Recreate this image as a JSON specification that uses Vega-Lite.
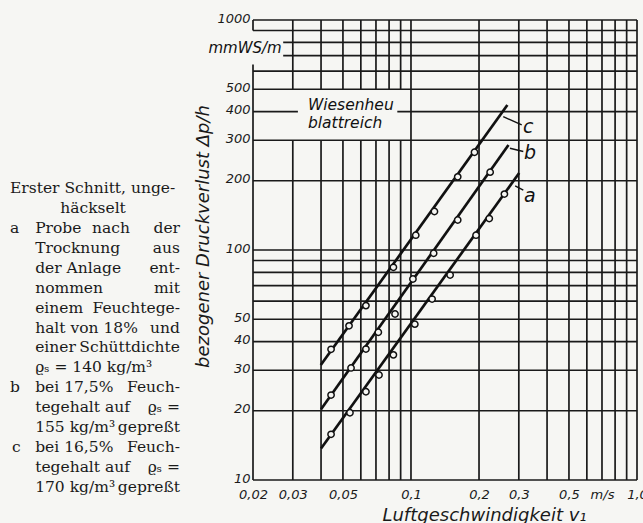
{
  "$schema": "https://vega.github.io/schema/vega-lite/v6.json",
  "background": "#f6f6f3",
  "padding": {"left": 0, "top": 12, "right": 0, "bottom": 0},
  "bounds": "flush",
  "spacing": 68,
  "config": {"view": {"stroke": null}},
  "datasets": {
    "para": [
      {"row": 0, "x": 0.054, "just": "l", "t": "Erster Schnitt, unge-"},
      {"row": 1, "x": 0.503, "just": "c", "t": "häckselt"},
      {"row": 2, "x": 0.054, "just": "l", "t": "a"},
      {"row": 2, "x": 0.19, "just": "l", "t": "Probe"},
      {"row": 2, "x": 0.6, "just": "c", "t": "nach"},
      {"row": 2, "x": 0.973, "just": "r", "t": "der"},
      {"row": 3, "x": 0.19, "just": "l", "t": "Trocknung"},
      {"row": 3, "x": 0.973, "just": "r", "t": "aus"},
      {"row": 4, "x": 0.19, "just": "l", "t": "der Anlage"},
      {"row": 4, "x": 0.973, "just": "r", "t": "ent-"},
      {"row": 5, "x": 0.19, "just": "l", "t": "nommen"},
      {"row": 5, "x": 0.973, "just": "r", "t": "mit"},
      {"row": 6, "x": 0.19, "just": "l", "t": "einem"},
      {"row": 6, "x": 0.973, "just": "r", "t": "Feuchtege-"},
      {"row": 7, "x": 0.19, "just": "l", "t": "halt von 18%"},
      {"row": 7, "x": 0.973, "just": "r", "t": "und"},
      {"row": 8, "x": 0.19, "just": "l", "t": "einer"},
      {"row": 8, "x": 0.973, "just": "r", "t": "Schüttdichte"},
      {"row": 9, "x": 0.19, "just": "l", "t": "ϱₛ = 140 kg/m³"},
      {"row": 10, "x": 0.054, "just": "l", "t": "b"},
      {"row": 10, "x": 0.19, "just": "l", "t": "bei 17,5%"},
      {"row": 10, "x": 0.973, "just": "r", "t": "Feuch-"},
      {"row": 11, "x": 0.19, "just": "l", "t": "tegehalt auf"},
      {"row": 11, "x": 0.973, "just": "r", "t": "ϱₛ ="},
      {"row": 12, "x": 0.19, "just": "l", "t": "155 kg/m³"},
      {"row": 12, "x": 0.973, "just": "r", "t": "gepreßt"},
      {"row": 13, "x": 0.065, "just": "l", "t": "c"},
      {"row": 13, "x": 0.19, "just": "l", "t": "bei 16,5%"},
      {"row": 13, "x": 0.973, "just": "r", "t": "Feuch-"},
      {"row": 14, "x": 0.19, "just": "l", "t": "tegehalt auf"},
      {"row": 14, "x": 0.973, "just": "r", "t": "ϱₛ ="},
      {"row": 15, "x": 0.19, "just": "l", "t": "170 kg/m³"},
      {"row": 15, "x": 0.973, "just": "r", "t": "gepreßt"}
    ],
    "vgrid": [
      {"x": 0.02, "y": 10, "y2": 640}, {"x": 0.02, "y": 900, "y2": 1000},
      {"x": 0.03, "y": 10, "y2": 300}, {"x": 0.03, "y": 500, "y2": 1000},
      {"x": 0.04, "y": 10, "y2": 300}, {"x": 0.04, "y": 500, "y2": 1000},
      {"x": 0.05, "y": 10, "y2": 300}, {"x": 0.05, "y": 500, "y2": 1000},
      {"x": 0.06, "y": 10, "y2": 300}, {"x": 0.06, "y": 500, "y2": 1000},
      {"x": 0.07, "y": 10, "y2": 300}, {"x": 0.07, "y": 500, "y2": 1000},
      {"x": 0.08, "y": 10, "y2": 300}, {"x": 0.08, "y": 500, "y2": 1000},
      {"x": 0.09, "y": 10, "y2": 300}, {"x": 0.09, "y": 500, "y2": 1000},
      {"x": 0.1, "y": 10, "y2": 1000}, {"x": 0.2, "y": 10, "y2": 1000},
      {"x": 0.3, "y": 10, "y2": 1000}, {"x": 0.4, "y": 10, "y2": 1000},
      {"x": 0.5, "y": 10, "y2": 1000}, {"x": 0.6, "y": 10, "y2": 1000},
      {"x": 0.7, "y": 10, "y2": 1000}, {"x": 0.8, "y": 10, "y2": 1000},
      {"x": 0.9, "y": 10, "y2": 1000}, {"x": 1.0, "y": 10, "y2": 1000}
    ],
    "hgrid": [
      {"y": 10, "x": 0.02, "x2": 1}, {"y": 20, "x": 0.02, "x2": 1},
      {"y": 30, "x": 0.02, "x2": 1}, {"y": 40, "x": 0.02, "x2": 1},
      {"y": 50, "x": 0.02, "x2": 1}, {"y": 60, "x": 0.02, "x2": 1},
      {"y": 70, "x": 0.02, "x2": 1}, {"y": 80, "x": 0.02, "x2": 1},
      {"y": 90, "x": 0.02, "x2": 1}, {"y": 100, "x": 0.02, "x2": 1},
      {"y": 200, "x": 0.02, "x2": 1}, {"y": 300, "x": 0.02, "x2": 1},
      {"y": 400, "x": 0.02, "x2": 0.0316}, {"y": 400, "x": 0.087, "x2": 1},
      {"y": 500, "x": 0.02, "x2": 1}, {"y": 600, "x": 0.02, "x2": 1},
      {"y": 700, "x": 0.0272, "x2": 1}, {"y": 800, "x": 0.0272, "x2": 1},
      {"y": 900, "x": 0.02, "x2": 1}, {"y": 1000, "x": 0.02, "x2": 1}
    ],
    "fits": [
      {"s": "c", "x": 0.0399, "y": 31.6}, {"s": "c", "x": 0.267, "y": 427},
      {"s": "b", "x": 0.04, "y": 20.3}, {"s": "b", "x": 0.27, "y": 286},
      {"s": "a", "x": 0.04, "y": 13.7}, {"s": "a", "x": 0.301, "y": 216}
    ],
    "pts": [
      {"s": "c", "x": 0.0443, "y": 37.0}, {"s": "c", "x": 0.0532, "y": 46.8},
      {"s": "c", "x": 0.0632, "y": 57.3}, {"s": "c", "x": 0.0836, "y": 84.1},
      {"s": "c", "x": 0.105, "y": 116}, {"s": "c", "x": 0.127, "y": 147},
      {"s": "c", "x": 0.161, "y": 208}, {"s": "c", "x": 0.191, "y": 266},
      {"s": "b", "x": 0.0443, "y": 23.4}, {"s": "b", "x": 0.0543, "y": 30.7},
      {"s": "b", "x": 0.0632, "y": 37.1}, {"s": "b", "x": 0.0717, "y": 43.9},
      {"s": "b", "x": 0.085, "y": 52.7}, {"s": "b", "x": 0.102, "y": 74.8},
      {"s": "b", "x": 0.126, "y": 96.8}, {"s": "b", "x": 0.161, "y": 135},
      {"s": "b", "x": 0.224, "y": 218},
      {"s": "a", "x": 0.0443, "y": 15.8}, {"s": "a", "x": 0.0537, "y": 19.6},
      {"s": "a", "x": 0.0632, "y": 24.2}, {"s": "a", "x": 0.0722, "y": 28.6},
      {"s": "a", "x": 0.0836, "y": 35.0}, {"s": "a", "x": 0.104, "y": 47.6},
      {"s": "a", "x": 0.124, "y": 61.2}, {"s": "a", "x": 0.149, "y": 77.8},
      {"s": "a", "x": 0.194, "y": 116}, {"s": "a", "x": 0.222, "y": 137},
      {"s": "a", "x": 0.259, "y": 175}
    ],
    "leaders": [
      {"s": "c", "x": 0.256, "y": 380, "x2": 0.309, "y2": 350},
      {"s": "b", "x": 0.274, "y": 277, "x2": 0.314, "y2": 268},
      {"s": "a", "x": 0.289, "y": 190, "x2": 0.314, "y2": 182}
    ],
    "curvelabels": [
      {"t": "c", "x": 0.33, "y": 343},
      {"t": "b", "x": 0.336, "y": 263},
      {"t": "a", "x": 0.336, "y": 172}
    ],
    "notes": [
      {"t": "Wiesenheu", "x": 0.035, "y": 427},
      {"t": "blattreich", "x": 0.035, "y": 357}
    ],
    "unit": [
      {"t": "mmWS/m", "x": 0.0268, "y": 756}
    ]
  },
  "hconcat": [
    {
      "width": 185,
      "height": 460,
      "data": {"name": "para"},
      "encoding": {
        "x": {"field": "x", "type": "quantitative", "scale": {"domain": [0, 1]}, "axis": null},
        "y": {"field": "row", "type": "quantitative", "scale": {"domain": [-8.46, 14.66], "reverse": true}, "axis": null},
        "text": {"field": "t"}
      },
      "layer": [
        {"transform": [{"filter": "datum.just == 'l'"}], "mark": {"type": "text", "align": "left", "baseline": "middle", "font": "DejaVu Serif", "fontSize": 15.5, "color": "#1a1a1a"}},
        {"transform": [{"filter": "datum.just == 'r'"}], "mark": {"type": "text", "align": "right", "baseline": "middle", "font": "DejaVu Serif", "fontSize": 15.5, "color": "#1a1a1a"}},
        {"transform": [{"filter": "datum.just == 'c'"}], "mark": {"type": "text", "align": "center", "baseline": "middle", "font": "DejaVu Serif", "fontSize": 15.5, "color": "#1a1a1a"}}
      ]
    },
    {
      "width": 384,
      "height": 460,
      "encoding": {
        "x": {
          "field": "x", "type": "quantitative",
          "scale": {"type": "log", "domain": [0.02, 1], "nice": false},
          "axis": {
            "title": "Luftgeschwindigkeit v₁",
            "values": [0.02, 0.03, 0.05, 0.1, 0.2, 0.3, 0.5, 0.7, 1],
            "labelExpr": "datum.value == 0.7 ? 'm/s' : datum.value == 1 ? '1,0' : replace(format(datum.value, '.2~f'), '.', ',')",
            "grid": false, "ticks": false, "domain": false,
            "labelFont": "DejaVu Sans", "labelFontStyle": "italic", "labelFontSize": 13, "labelColor": "#1a1a1a",
            "labelPadding": 8, "labelFlush": false, "labelOverlap": false,
            "titleFont": "DejaVu Sans", "titleFontStyle": "italic", "titleFontWeight": "normal", "titleFontSize": 18, "titleColor": "#1a1a1a",
            "titleX": 231, "titleY": 35, "titleBaseline": "middle"
          }
        },
        "y": {
          "field": "y", "type": "quantitative",
          "scale": {"type": "log", "domain": [10, 1000], "nice": false},
          "axis": {
            "title": "bezogener Druckverlust Δp/h",
            "values": [10, 20, 30, 40, 50, 100, 200, 300, 400, 500, 1000],
            "labelExpr": "format(datum.value, 'd')",
            "grid": false, "ticks": false, "domain": false,
            "labelFont": "DejaVu Sans", "labelFontStyle": "italic", "labelFontSize": 13, "labelColor": "#1a1a1a",
            "labelPadding": 3, "labelFlush": false, "labelOverlap": false, "labelOffset": -2,
            "titleFont": "DejaVu Sans", "titleFontStyle": "italic", "titleFontWeight": "normal", "titleFontSize": 18, "titleColor": "#1a1a1a",
            "titleX": -50, "titleY": 216, "titleBaseline": "middle"
          }
        }
      },
      "layer": [
        {"data": {"name": "vgrid"}, "mark": {"type": "rule", "color": "#1a1a1a", "strokeWidth": 1.7}, "encoding": {"y2": {"field": "y2"}}},
        {"data": {"name": "hgrid"}, "mark": {"type": "rule", "color": "#1a1a1a", "strokeWidth": 1.7}, "encoding": {"x2": {"field": "x2"}}},
        {"data": {"name": "fits"}, "mark": {"type": "line", "color": "#111", "strokeWidth": 2.7}, "encoding": {"detail": {"field": "s"}}},
        {"data": {"name": "leaders"}, "mark": {"type": "rule", "color": "#111", "strokeWidth": 1.4}, "encoding": {"x2": {"field": "x2"}, "y2": {"field": "y2"}}},
        {"data": {"name": "pts"}, "mark": {"type": "point", "shape": "circle", "filled": false, "fill": "#f6f6f3", "fillOpacity": 1, "stroke": "#111", "strokeWidth": 1.5, "size": 40, "opacity": 1}},
        {"data": {"name": "curvelabels"}, "mark": {"type": "text", "align": "center", "baseline": "middle", "font": "DejaVu Sans", "fontStyle": "italic", "fontSize": 19, "color": "#111"}, "encoding": {"text": {"field": "t"}}},
        {"data": {"name": "notes"}, "mark": {"type": "text", "align": "left", "baseline": "middle", "font": "DejaVu Sans", "fontStyle": "italic", "fontSize": 15.5, "color": "#111"}, "encoding": {"text": {"field": "t"}}},
        {"data": {"name": "unit"}, "mark": {"type": "text", "align": "right", "baseline": "middle", "font": "DejaVu Sans", "fontStyle": "italic", "fontSize": 15, "color": "#111"}, "encoding": {"text": {"field": "t"}}}
      ]
    }
  ]
}
